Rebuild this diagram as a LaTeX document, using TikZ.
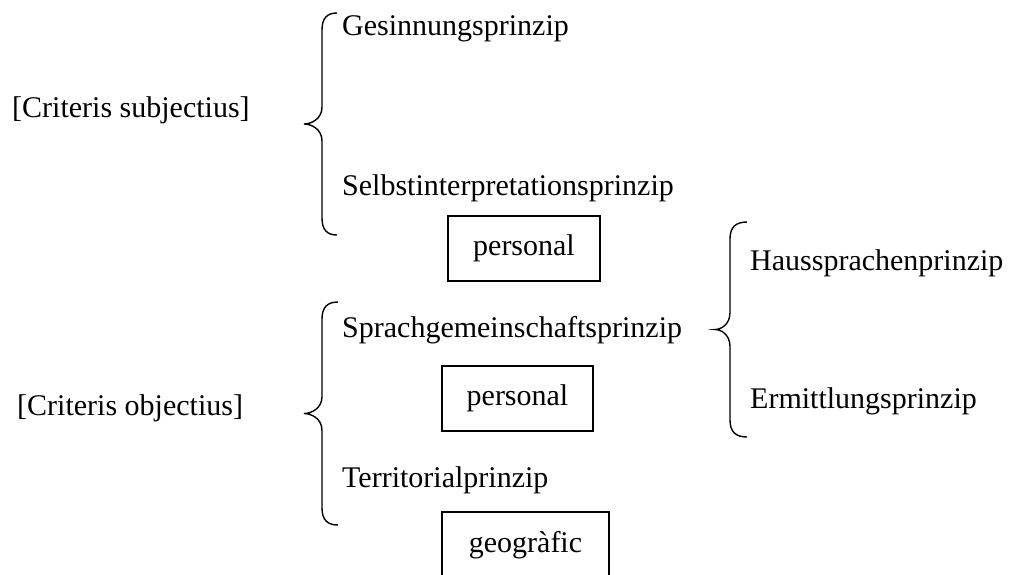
\documentclass[tikz,border=0pt]{standalone}
\usepackage{fontspec}
\setmainfont{Liberation Serif}
\newcommand{\bracepath}[5]{% #1 end x, #2 line x, #3 tip x, #4 top y, #5 bottom y
  (#1,#4) .. controls ({#2+0.35*(#1-#2)},#4) and (#2,{#4+5}) .. (#2,{#4+17})
  -- (#2,{(#4+#5)/2-17}) .. controls (#2,{(#4+#5)/2-5}) and ({#3+0.4*(#2-#3)},{(#4+#5)/2}) .. (#3,{(#4+#5)/2})
  .. controls ({#3+0.4*(#2-#3)},{(#4+#5)/2}) and (#2,{(#4+#5)/2+5}) .. (#2,{(#4+#5)/2+17})
  -- (#2,{#5-17}) .. controls (#2,{#5-5}) and ({#2+0.35*(#1-#2)},#5) .. (#1,#5)}
\begin{document}
\begin{tikzpicture}[x=1pt,y=-1pt,
  lbl/.style={anchor=base west,inner sep=0pt,font=\fontsize{30}{36}\selectfont},
  boxnode/.style={draw,line width=1.5pt,inner sep=0pt,font=\fontsize{30}{36}\selectfont},
  bracestyle/.style={line width=1.4pt}]
\useasboundingbox (0,0) rectangle (1015,574);
% texts
\node[lbl] (cs) at (12,117) {[Criteris subjectius]};
\node[lbl] (ges) at (342,35) {Gesinnungsprinzip};
\node[lbl] (sel) at (342,195) {Selbstinterpretationsprinzip};
\node[boxnode,minimum width=152pt,minimum height=65pt] (p1) at (524,248.5) {personal};
\node[lbl] (hau) at (750,270) {Haussprachenprinzip};
\node[lbl] (spr) at (342,337) {Sprachgemeinschaftsprinzip};
\node[lbl] (co) at (17,415) {[Criteris objectius]};
\node[boxnode,minimum width=151pt,minimum height=65pt] (p2) at (517.5,398.5) {personal};
\node[lbl] (erm) at (750,408) {Ermittlungsprinzip};
\node[lbl] (ter) at (342,487) {Territorialprinzip};
\node[boxnode,minimum width=167pt,minimum height=66pt] (geo) at (525.5,545) {geogràfic};
% braces
\draw[bracestyle] \bracepath{337}{322}{304}{13}{235};
\draw[bracestyle] \bracepath{338}{322}{304}{302}{525};
\draw[bracestyle] \bracepath{747}{730}{715}{222}{437};
\end{tikzpicture}
\end{document}
